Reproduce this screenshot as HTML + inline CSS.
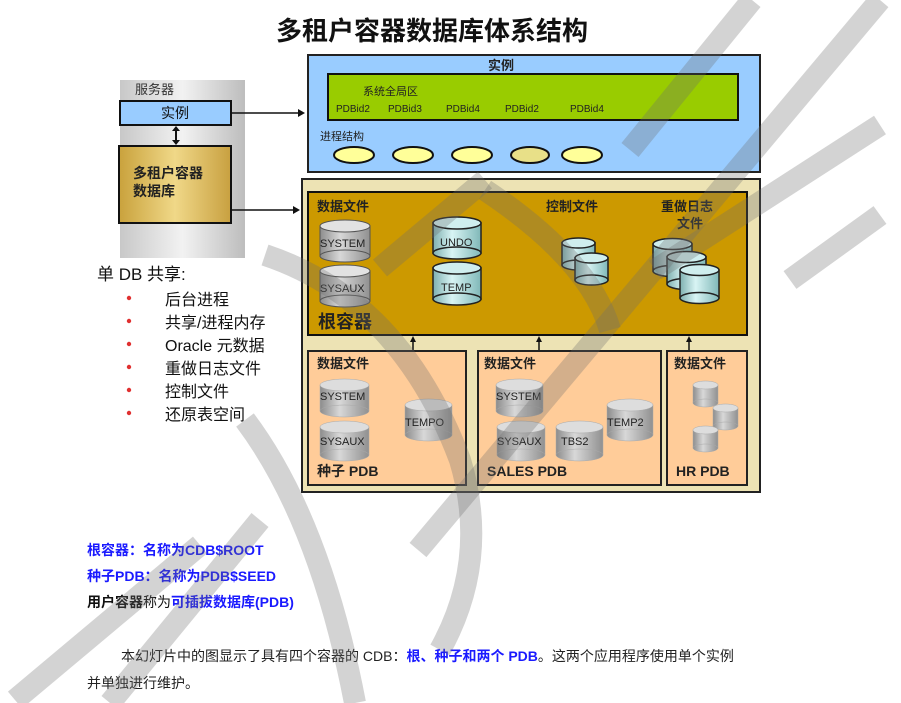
<!DOCTYPE html>
<html><head><meta charset="utf-8"><style>
html,body{margin:0;padding:0;background:#fff;}
body{width:901px;height:703px;overflow:hidden;position:relative;font-family:"Liberation Sans","Noto Sans CJK SC",sans-serif;}
svg{position:absolute;left:0;top:0;}
svg text{font-family:"Liberation Sans","Noto Sans CJK SC",sans-serif;}
</style></head><body>
<svg width="901" height="703" viewBox="0 0 901 703">
<defs>
<linearGradient id="gray" x1="0" x2="1"><stop offset="0" stop-color="#8c8c8c"/><stop offset=".4" stop-color="#d8d8d8"/><stop offset="1" stop-color="#909090"/></linearGradient>
<linearGradient id="cyan" x1="0" x2="1"><stop offset="0" stop-color="#7fb0b0"/><stop offset=".4" stop-color="#d8f4f4"/><stop offset="1" stop-color="#80b8b8"/></linearGradient>
<linearGradient id="srv" x1="0" x2="1"><stop offset="0" stop-color="#c8c8c8"/><stop offset=".5" stop-color="#f2f2f2"/><stop offset="1" stop-color="#bdbdbd"/></linearGradient>
<linearGradient id="gold" x1="0" x2="1"><stop offset="0" stop-color="#c9a23c"/><stop offset=".5" stop-color="#f0d888"/><stop offset="1" stop-color="#c8a040"/></linearGradient>
</defs>

<text x="432" y="40" font-size="26" font-weight="bold" text-anchor="middle" fill="#111">多租户容器数据库体系结构</text>

<!-- server -->
<rect x="120" y="80" width="125" height="178" fill="url(#srv)"/>
<text x="135" y="94" font-size="13" fill="#333">服务器</text>
<rect x="120" y="101" width="111" height="24" fill="#99ccff" stroke="#111" stroke-width="2"/>
<text x="175" y="118" font-size="14" text-anchor="middle" fill="#111">实例</text>
<line x1="176" y1="128" x2="176" y2="143" stroke="#111" stroke-width="2"/>
<path d="M172 131 L176 126 L180 131Z M172 140 L176 145 L180 140Z" fill="#111"/>
<rect x="119" y="146" width="112" height="77" fill="url(#gold)" stroke="#111" stroke-width="2"/>
<text x="133" y="178" font-size="14" font-weight="bold" fill="#222">多租户容器</text>
<text x="133" y="196" font-size="14" font-weight="bold" fill="#222">数据库</text>
<line x1="231" y1="113" x2="298" y2="113" stroke="#111" stroke-width="1.5"/><path d="M298 109 L305 113 L298 117Z" fill="#111"/>
<line x1="231" y1="210" x2="293" y2="210" stroke="#111" stroke-width="1.5"/><path d="M293 206 L300 210 L293 214Z" fill="#111"/>

<!-- list -->
<text x="97" y="280" font-size="17" fill="#111">单 DB 共享:</text>
<g font-size="16" fill="#111">
<text x="165" y="305">后台进程</text>
<text x="165" y="328">共享/进程内存</text>
<text x="165" y="351">Oracle 元数据</text>
<text x="165" y="374">重做日志文件</text>
<text x="165" y="397">控制文件</text>
<text x="165" y="420">还原表空间</text>
</g>
<g fill="#e03030"><circle cx="129" cy="298" r="2.2"/><circle cx="129" cy="321" r="2.2"/><circle cx="129" cy="344" r="2.2"/><circle cx="129" cy="367" r="2.2"/><circle cx="129" cy="390" r="2.2"/><circle cx="129" cy="413" r="2.2"/></g>

<!-- instance -->
<rect x="308" y="55" width="452" height="117" fill="#99ccff" stroke="#222" stroke-width="2"/>
<text x="501" y="70" font-size="13" font-weight="bold" text-anchor="middle" fill="#222">实例</text>
<rect x="328" y="74" width="410" height="46" fill="#99cc00" stroke="#111" stroke-width="2"/>
<text x="363" y="95" font-size="11" fill="#222">系统全局区</text>
<g font-size="10" fill="#222"><text x="336" y="112">PDBid2</text><text x="388" y="112">PDBid3</text><text x="446" y="112">PDBid4</text><text x="505" y="112">PDBid2</text><text x="570" y="112">PDBid4</text></g>
<text x="320" y="140" font-size="11" fill="#222">进程结构</text>
<g fill="#ffff99" stroke="#111" stroke-width="2"><ellipse cx="354" cy="155" rx="20" ry="8"/><ellipse cx="413" cy="155" rx="20" ry="8"/><ellipse cx="472" cy="155" rx="20" ry="8"/><ellipse cx="530" cy="155" rx="19" ry="8" fill="#e8e088"/><ellipse cx="582" cy="155" rx="20" ry="8"/></g>

<!-- CDB -->
<rect x="302" y="179" width="458" height="313" fill="#ede3b4" stroke="#222" stroke-width="2"/>
<rect x="308" y="192" width="439" height="143" fill="#cc9900" stroke="#111" stroke-width="2"/>
<g font-size="13" font-weight="bold" fill="#222">
<text x="317" y="211">数据文件</text><text x="546" y="211">控制文件</text><text x="661" y="211">重做日志</text><text x="677" y="228">文件</text>
</g>
<text x="318" y="328" font-size="18" font-weight="bold" fill="#222">根容器</text>

<g stroke="#555" stroke-width="1">
<rect x="320" y="226" width="50" height="30" fill="url(#gray)"/><ellipse cx="345" cy="256" rx="25" ry="6" fill="url(#gray)"/><ellipse cx="345" cy="226" rx="25" ry="6" fill="#e2e2e2"/>
<rect x="320" y="271" width="50" height="30" fill="url(#gray)"/><ellipse cx="345" cy="301" rx="25" ry="6" fill="url(#gray)"/><ellipse cx="345" cy="271" rx="25" ry="6" fill="#e2e2e2"/>
<g stroke="#222" stroke-width="1.5">
<rect x="433" y="223" width="48" height="30" fill="url(#cyan)"/><ellipse cx="457" cy="253" rx="24" ry="6" fill="url(#cyan)"/><ellipse cx="457" cy="223" rx="24" ry="6" fill="#cfeeee"/>
<rect x="433" y="268" width="48" height="31" fill="url(#cyan)"/><ellipse cx="457" cy="299" rx="24" ry="6" fill="url(#cyan)"/><ellipse cx="457" cy="268" rx="24" ry="6" fill="#cfeeee"/>
<rect x="562" y="243" width="33" height="22" fill="url(#cyan)"/><ellipse cx="578.5" cy="265" rx="16.5" ry="5" fill="url(#cyan)"/><ellipse cx="578.5" cy="243" rx="16.5" ry="5" fill="#cfeeee"/>
<rect x="575" y="258" width="33" height="22" fill="url(#cyan)"/><ellipse cx="591.5" cy="280" rx="16.5" ry="5" fill="url(#cyan)"/><ellipse cx="591.5" cy="258" rx="16.5" ry="5" fill="#cfeeee"/>
<rect x="653" y="244" width="39" height="27" fill="url(#cyan)"/><ellipse cx="672.5" cy="271" rx="19.5" ry="5.5" fill="url(#cyan)"/><ellipse cx="672.5" cy="244" rx="19.5" ry="5.5" fill="#cfeeee"/>
<rect x="667" y="257" width="39" height="27" fill="url(#cyan)"/><ellipse cx="686.5" cy="284" rx="19.5" ry="5.5" fill="url(#cyan)"/><ellipse cx="686.5" cy="257" rx="19.5" ry="5.5" fill="#cfeeee"/>
<rect x="680" y="270" width="39" height="28" fill="url(#cyan)"/><ellipse cx="699.5" cy="298" rx="19.5" ry="5.5" fill="url(#cyan)"/><ellipse cx="699.5" cy="270" rx="19.5" ry="5.5" fill="#cfeeee"/>
</g>
</g>
<g font-size="11" fill="#222"><text x="320" y="247">SYSTEM</text><text x="320" y="292">SYSAUX</text><text x="440" y="246">UNDO</text><text x="441" y="291">TEMP</text></g>

<g stroke="#111" stroke-width="1.5"><line x1="413" y1="350" x2="413" y2="340"/><line x1="539" y1="350" x2="539" y2="340"/><line x1="689" y1="350" x2="689" y2="340"/></g>
<path d="M410 342 L413 336 L416 342Z M536 342 L539 336 L542 342Z M686 342 L689 336 L692 342Z" fill="#111"/>

<!-- PDBs -->
<g fill="#ffcc99" stroke="#222" stroke-width="2"><rect x="308" y="351" width="158" height="134"/><rect x="478" y="351" width="183" height="134"/><rect x="667" y="351" width="80" height="134"/></g>
<g font-size="13" font-weight="bold" fill="#222"><text x="317" y="368">数据文件</text><text x="484" y="368">数据文件</text><text x="674" y="368">数据文件</text>
<text x="317" y="476" font-size="14">种子 PDB</text><text x="487" y="476" font-size="14">SALES PDB</text><text x="676" y="476" font-size="14">HR PDB</text></g>
<g stroke="#aaa" stroke-width="0.5">
<rect x="320" y="385" width="49" height="26" fill="url(#gray)"/><ellipse cx="344.5" cy="411" rx="24.5" ry="6" fill="url(#gray)"/><ellipse cx="344.5" cy="385" rx="24.5" ry="6" fill="#ddd"/>
<rect x="320" y="427" width="49" height="28" fill="url(#gray)"/><ellipse cx="344.5" cy="455" rx="24.5" ry="6" fill="url(#gray)"/><ellipse cx="344.5" cy="427" rx="24.5" ry="6" fill="#ddd"/>
<rect x="405" y="405" width="47" height="30" fill="url(#gray)"/><ellipse cx="428.5" cy="435" rx="23.5" ry="6" fill="url(#gray)"/><ellipse cx="428.5" cy="405" rx="23.5" ry="6" fill="#ddd"/>
<rect x="496" y="385" width="47" height="26" fill="url(#gray)"/><ellipse cx="519.5" cy="411" rx="23.5" ry="6" fill="url(#gray)"/><ellipse cx="519.5" cy="385" rx="23.5" ry="6" fill="#ddd"/>
<rect x="497" y="427" width="48" height="28" fill="url(#gray)"/><ellipse cx="521" cy="455" rx="24" ry="6" fill="url(#gray)"/><ellipse cx="521" cy="427" rx="24" ry="6" fill="#ddd"/>
<rect x="556" y="427" width="47" height="28" fill="url(#gray)"/><ellipse cx="579.5" cy="455" rx="23.5" ry="6" fill="url(#gray)"/><ellipse cx="579.5" cy="427" rx="23.5" ry="6" fill="#ddd"/>
<rect x="607" y="405" width="46" height="30" fill="url(#gray)"/><ellipse cx="630" cy="435" rx="23" ry="6" fill="url(#gray)"/><ellipse cx="630" cy="405" rx="23" ry="6" fill="#ddd"/>
<rect x="693" y="385" width="25" height="18" fill="url(#gray)"/><ellipse cx="705.5" cy="403" rx="12.5" ry="4" fill="url(#gray)"/><ellipse cx="705.5" cy="385" rx="12.5" ry="4" fill="#ddd"/>
<rect x="713" y="408" width="25" height="18" fill="url(#gray)"/><ellipse cx="725.5" cy="426" rx="12.5" ry="4" fill="url(#gray)"/><ellipse cx="725.5" cy="408" rx="12.5" ry="4" fill="#ddd"/>
<rect x="693" y="430" width="25" height="18" fill="url(#gray)"/><ellipse cx="705.5" cy="448" rx="12.5" ry="4" fill="url(#gray)"/><ellipse cx="705.5" cy="430" rx="12.5" ry="4" fill="#ddd"/>
</g>
<g font-size="11" fill="#222"><text x="320" y="400">SYSTEM</text><text x="320" y="445">SYSAUX</text><text x="405" y="426">TEMPO</text>
<text x="496" y="400">SYSTEM</text><text x="497" y="445">SYSAUX</text><text x="561" y="445">TBS2</text><text x="607" y="426">TEMP2</text></g>

<!-- bottom text -->
<g font-size="14" font-weight="bold"><text x="87" y="555" fill="#1a1aff">根容器：名称为CDB$ROOT</text>
<text x="87" y="581" fill="#1a1aff">种子PDB：名称为PDB$SEED</text>
<text x="87" y="607" fill="#111">用户容器<tspan font-weight="normal">称为</tspan><tspan fill="#1a1aff">可插拔数据库(PDB)</tspan></text></g>
<text x="121" y="661" font-size="14" fill="#222">本幻灯片中的图显示了具有四个容器的 CDB：<tspan fill="#1a1aff" font-weight="bold">根、种子和两个 PDB</tspan>。这两个应用程序使用单个实例</text>
<text x="87" y="688" font-size="14" fill="#222">并单独进行维护。</text>

<!-- watermark -->
<g stroke="rgba(110,110,110,0.3)" stroke-width="22" fill="none" stroke-linecap="butt">
<line x1="752" y1="0" x2="630" y2="150"/>
<line x1="880" y1="0" x2="418" y2="550"/>
<line x1="880" y1="125" x2="655" y2="270"/>
<line x1="880" y1="215" x2="790" y2="280"/>
<path d="M265 255 Q400 300 460 460 Q490 560 440 650"/>
<path d="M245 420 Q320 520 355 703"/>
<line x1="380" y1="268" x2="485" y2="180"/>
<path d="M485 190 Q590 260 610 330"/>
<line x1="15" y1="700" x2="200" y2="545"/>
<line x1="110" y1="703" x2="260" y2="520"/>
</g>
</svg>
</body></html>
